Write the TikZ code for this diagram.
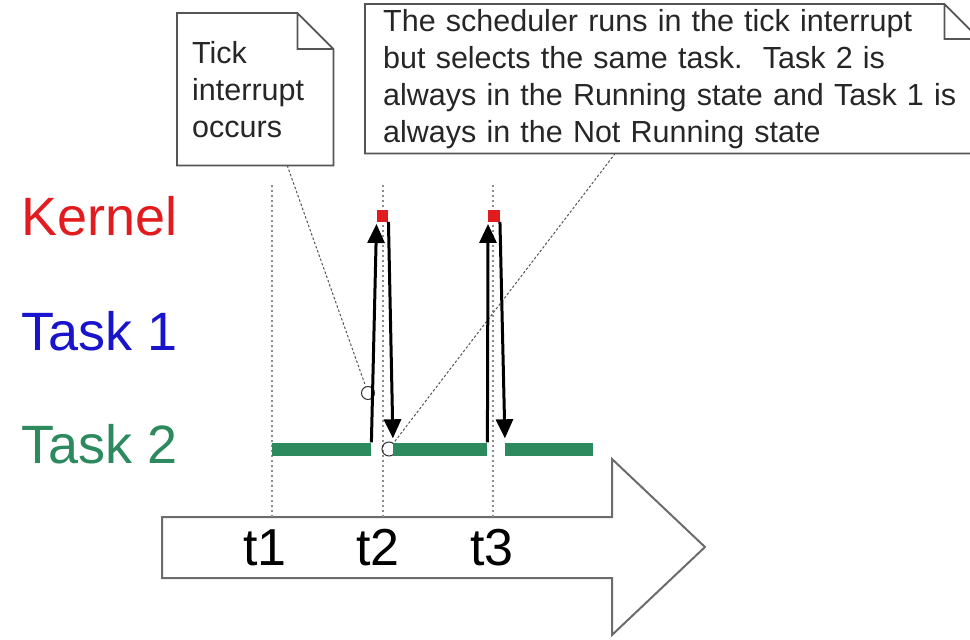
\documentclass[tikz,border=0pt]{standalone}
\usepackage{fontspec}
\setmainfont{Liberation Sans}
\usetikzlibrary{arrows.meta}

\definecolor{kernelred}{RGB}{226,28,30}
\definecolor{taskblue}{RGB}{24,20,204}
\definecolor{taskgreen}{RGB}{44,138,94}
\definecolor{linegray}{RGB}{85,85,85}

\begin{document}
\begin{tikzpicture}[
    x=1pt, y=-1pt,
    >={Triangle[length=19pt, width=17pt]},
    note/.style     = {rectangle, inner ysep=0pt, align=left,
                       font=\fontsize{30.5}{37}\selectfont, text=black!85},
    noteline/.style = {draw=linegray, line width=1.8pt, line join=miter},
    row/.style      = {anchor=base west, font=\fontsize{54}{60}\selectfont},
    tlabel/.style   = {anchor=base, font=\fontsize{52}{58}\selectfont},
    guide/.style    = {gray!90, line width=2pt, dash pattern=on 2pt off 3pt},
    callout/.style  = {linegray, line width=1pt, dash pattern=on 2.5pt off 2pt},
    bar/.style      = {fill=taskgreen, inner sep=0pt, minimum height=13pt, anchor=west},
    kern/.style     = {fill=kernelred, inner sep=0pt, minimum size=11.5pt},
    ringmark/.style = {draw=black!80, circle, inner sep=0pt, line width=1pt},
    switch/.style   = {->, line width=3pt}
]
\useasboundingbox (0,0) rectangle (970,640);

% Row labels
\node[row, text=kernelred] (kernel) at (18,235) {Kernel};
\node[row, text=taskblue]  (task1)  at (18,350) {Task 1};
\node[row, text=taskgreen] (task2)  at (18,463) {Task 2};

% Time axis
\coordinate (axis) at (162,517);
\draw[draw=gray!85!black, line width=2pt, fill=white]
    (axis) -- (612,517) -- (612,459) -- (705,547) -- (612,635)
    -- (612,578) -- (162,578) -- cycle;
\foreach \n/\x/\lx in {1/272/265, 2/383/378, 3/493/492} {
    \coordinate (top\n) at (\x,185);
    \draw[guide] (top\n) -- (top\n |- axis);
    \node[tlabel] (t\n) at (\lx,565) {t\n};
}

% Notes
\node[note, anchor=north west, inner xsep=15pt, text width=126pt,
      minimum width=156pt, minimum height=152pt] (tick) at (177,13)
    {Tick\\interrupt\\occurs};
\node[note, anchor=north west, inner xsep=18pt, text width=578pt,
      minimum width=614pt, minimum height=149pt] (sched) at (365,4)
    {\mbox{The scheduler runs in the tick interrupt}\\
     \mbox{but selects the same task.\ \ Task 2 is}\\
     \mbox{always in the Running state and Task 1 is}\\
     \mbox{always in the Not Running state}};
\foreach \n/\f in {tick/36, sched/35}
    \draw[noteline] (\n.north west) -- ([xshift=-\f]\n.north east)
        -- ([yshift=-\f]\n.north east) -- (\n.south east)
        -- (\n.south west) -- cycle
        ([xshift=-\f]\n.north east) |- ([yshift=-\f]\n.north east);

% Tick markers and callouts
\node[ringmark, minimum size=13pt] (c1) at (368,393) {};
\node[ringmark, minimum size=14pt] (c2) at (389,449) {};
\draw[callout] ([xshift=32]tick.south) -- (c1);
\draw[callout] ([xshift=-57]sched.south) -- (c2);

% Task 2 running, kernel ticks
\node[bar, minimum width=99pt] (b1) at (272,449) {};
\node[bar, minimum width=94pt] (b2) at (393,449) {};
\node[bar, minimum width=88pt] (b3) at (505,449) {};
\node[kern] (k1) at (382.5,216) {};
\node[kern] (k2) at (494,216) {};

% Context switches
\draw[switch, shorten >=2pt] (b1.north east) -- (k1.south west);
\draw[switch, shorten >=4pt] (k1.south east) -- (b2.north west);
\draw[switch, shorten >=2pt] (b2.north east) -- (k2.south west);
\draw[switch, shorten >=4pt] (k2.south east) -- (b3.north west);

\end{tikzpicture}
\end{document}
